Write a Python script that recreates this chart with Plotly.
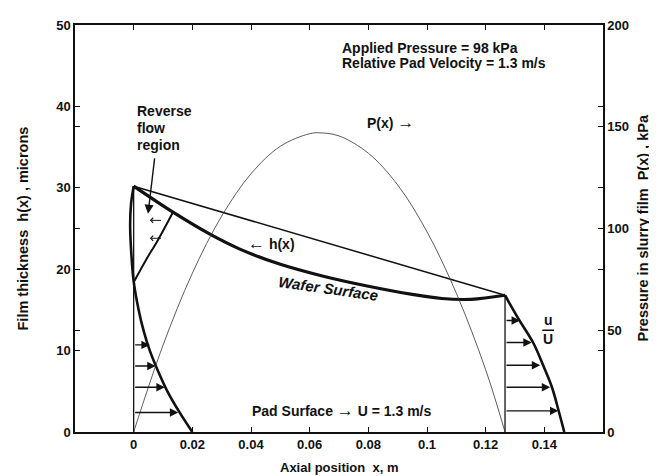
import plotly.graph_objects as go

# ---------------- data ----------------
# wafer surface h(x), microns
wafer_x = [0.0, 0.0134, 0.026, 0.036, 0.050, 0.065, 0.080, 0.095, 0.105, 0.115, 0.1266]
wafer_h = [30.2, 27.0, 24.3, 22.5, 20.6, 19.1, 17.9, 16.9, 16.4, 16.3, 16.8]

# straight chord between inlet and outlet
chord_x = [0.0, 0.1266]
chord_h = [30.2, 16.8]

# inlet velocity profile (x offset ~ u/U scaled), microns
inlet_px = [0.0, -0.0009, -0.0012, -0.0009, 0.0, 0.0017, 0.0035, 0.0055, 0.0083, 0.0115, 0.0155, 0.0200]
inlet_ph = [30.2, 28.0, 25.5, 22.5, 18.5, 15.0, 12.3, 10.0, 7.5, 5.0, 2.5, 0.0]

# outlet velocity profile
outlet_px = [0.1266, 0.1312, 0.1363, 0.1397, 0.1426, 0.1448, 0.1468]
outlet_ph = [16.8, 13.9, 10.9, 8.1, 5.5, 2.7, 0.0]

# dividing streamline of the reverse-flow region
divide_x = [0.0, 0.0043, 0.0083, 0.0134]
divide_h = [18.4, 21.2, 23.6, 27.0]

# pressure in slurry film, kPa
p_x = [0.0, 0.01, 0.02, 0.03, 0.04, 0.05, 0.06, 0.0635, 0.07, 0.08, 0.09, 0.10, 0.11, 0.12, 0.1266]
p_kpa = [0.0, 42.6, 78.0, 106.1, 126.9, 140.4, 146.6, 147.0, 145.5, 137.0, 121.4, 98.4, 68.2, 30.6, 0.0]

# velocity arrows
inlet_arrow_h = [10.7, 8.1, 5.5, 2.4]
inlet_arrow_x = [0.0055, 0.0075, 0.0106, 0.0152]
outlet_arrow_h = [13.7, 11.0, 8.2, 5.5, 2.6]
outlet_arrow_x = [0.1317, 0.1357, 0.1386, 0.1420, 0.1448]
# small reverse-flow arrows (tail x, head x)
reverse_arrow_h = [26.0, 23.8]
reverse_arrow_tail = [0.0098, 0.0098]
reverse_arrow_head = [0.0055, 0.0055]

# axes
x_ticks = [0, 0.02, 0.04, 0.06, 0.08, 0.10, 0.12, 0.14]
x_ticklabels = ["0", "0.02", "0.04", "0.06", "0.08", "0.1", "0.12", "0.14"]
h_ticks = [0, 10, 20, 30, 40, 50]
p_ticks = [0, 50, 100, 150, 200]

FONT = "Liberation Sans"
BLACK = "#111111"
ARR = "<span style='font-size:17px'>{}</span>"

fig = go.Figure()

def line(x, y, w, axis="y", shape="linear", color=BLACK):
    fig.add_trace(go.Scatter(x=x, y=y, mode="lines", yaxis=axis,
                             line=dict(color=color, width=w, shape=shape),
                             hoverinfo="skip", showlegend=False))

# pressure curve (thin)
line(p_x, p_kpa, 0.8, axis="y2", shape="spline", color="#333333")
# vertical reference lines at inlet / outlet
line([chord_x[0], chord_x[0]], [0, chord_h[0]], 1.3)
line([chord_x[1], chord_x[1]], [0, chord_h[1]], 1.3)
# chord
line(chord_x, chord_h, 1.5)
# wafer surface
line(wafer_x, wafer_h, 3.2, shape="spline")
# velocity profiles
line(inlet_px, inlet_ph, 2.6, shape="spline")
line(outlet_px, outlet_ph, 2.6, shape="spline")
line(divide_x, divide_h, 2.0, shape="spline")

ann = []
def arrow(hx, hy, tx, ty, head=2, size=1.2, width=1.4):
    ann.append(dict(x=hx, y=hy, ax=tx, ay=ty, xref="x", yref="y", axref="x", ayref="y",
                    text="", showarrow=True, arrowhead=head, arrowsize=size, arrowwidth=width,
                    arrowcolor=BLACK))

for hx, hy in zip(inlet_arrow_x, inlet_arrow_h):
    arrow(hx, hy, chord_x[0], hy)
for hx, hy in zip(outlet_arrow_x, outlet_arrow_h):
    arrow(hx, hy, chord_x[1], hy)
for hy, tx, hx in zip(reverse_arrow_h, reverse_arrow_tail, reverse_arrow_head):
    arrow(hx, hy, tx, hy, head=4, size=1.0, width=1.0)
# pointer from "Reverse flow region"
arrow(0.0049, 26.8, 0.0072, 33.8, size=1.3)

tf = dict(family=FONT, size=14, color=BLACK, weight="bold")
tickf = dict(family=FONT, size=13, color=BLACK, weight="bold")
titf = dict(family=FONT, size=14.5, color=BLACK, weight="bold")

def txt(x, y, s, **kw):
    d = dict(x=x, y=y, xref="x", yref="y", text=s, showarrow=False, font=tf)
    d.update(kw)
    ann.append(d)

for i, s in enumerate(["Reverse", "flow", "region"]):
    txt(0.0003, 39.4 - 2.1 * i, s, xanchor="left")
txt(0.0703, 47.2, "Applied Pressure = 98 kPa", xanchor="left")
txt(0.0703, 45.3, "Relative Pad Velocity = 1.3 m/s", xanchor="left")
txt(0.0874, 38.0, "P(x) " + ARR.format("→"))
txt(0.0470, 23.1, ARR.format("←") + " h(x)")
txt(0.0665, 17.6, "<i>Wafer Surface</i>", textangle=8,
    font=dict(family=FONT, size=15, color=BLACK, weight="bold"))
txt(0.071, 2.66, "Pad Surface " + ARR.format("→") + " U = 1.3 m/s")
txt(0.1413, 13.7, "u")
txt(0.1413, 11.4, "U")

ann += [
    dict(x=0, y=0.5, xref="paper", yref="paper", xshift=-53, xanchor="center", yanchor="middle",
         text="Film thickness  h(x) , microns", textangle=-90, showarrow=False, font=titf),
    dict(x=1, y=0.5, xref="paper", yref="paper", xshift=39, xanchor="center", yanchor="middle",
         text="Pressure in slurry film  P(x) , kPa", textangle=-90, showarrow=False, font=titf),
    dict(x=0.5, y=0, xref="paper", yref="paper", yshift=-35, xanchor="center", yanchor="middle",
         text="Axial position  x, m", showarrow=False, font=dict(family=FONT, size=13, color=BLACK, weight="bold")),
]

# page body adds an 8 px margin, so the figure is sized/offset to compensate
fig.update_layout(
    width=649, height=468,
    margin=dict(l=67, r=54, t=10, b=44),
    paper_bgcolor="white", plot_bgcolor="white",
    showlegend=False,
    annotations=ann,
    shapes=[dict(type="line", xref="x", yref="y", x0=0.1393, x1=0.1433, y0=12.5, y1=12.5,
                 line=dict(color=BLACK, width=1.5))],
    xaxis=dict(range=[-0.02, 0.16], tickvals=x_ticks, ticktext=x_ticklabels, ticks="inside",
               ticklen=5, tickcolor=BLACK, showline=True, linecolor=BLACK, linewidth=1.5,
               mirror="ticks", showgrid=False, zeroline=False, tickfont=tickf),
    yaxis=dict(range=[0, 50], tickvals=h_ticks, ticks="inside", ticklen=5, tickcolor=BLACK,
               showline=True, linecolor=BLACK, linewidth=1.5, mirror="ticks",
               showgrid=False, zeroline=False, tickfont=tickf),
    yaxis2=dict(range=[0, 200], tickvals=p_ticks, ticks="inside", ticklen=5, tickcolor=BLACK,
                overlaying="y", side="right", showline=True, linecolor=BLACK, linewidth=1.5,
                mirror="ticks", showgrid=False, zeroline=False, tickfont=tickf),
)

fig.write_html("out.html")
